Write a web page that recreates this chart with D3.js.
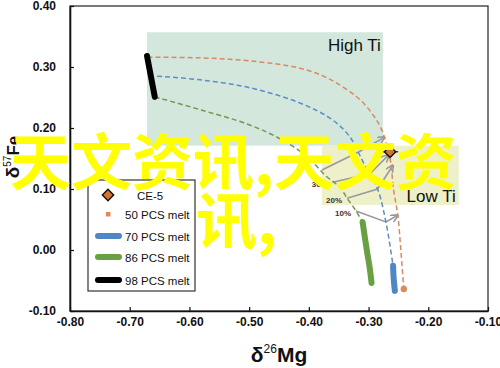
<!DOCTYPE html>
<html><head><meta charset="utf-8">
<script src="https://cdn.jsdelivr.net/npm/d3@7"></script>
<style>
html,body{margin:0;padding:0;background:#fff;}
svg{display:block;}
</style></head>
<body>
<svg id="chart" width="500" height="368"></svg>
<script>
// ---------- DATA ----------
const xTicks = [-0.8,-0.7,-0.6,-0.5,-0.4,-0.3,-0.2,-0.1];
const yTicks = [-0.1,0.0,0.1,0.2,0.3,0.4];
const regionNames = ["High Ti","Low Ti"];
const regionX = [[-0.671,-0.276],[-0.378,-0.149]];
const regionY = [[0.171,0.357],[0.074,0.171]];
const ce5 = [-0.264,0.161];
// dashed model paths (δ26Mg, δ57Fe)
const path50 = [[-0.670,0.316],[-0.582,0.315],[-0.499,0.310],[-0.415,0.298],[-0.365,0.280],[-0.315,0.247],[-0.290,0.218],[-0.278,0.197],[-0.272,0.180],[-0.264,0.150],[-0.258,0.098],[-0.251,0.057],[-0.246,0.000],[-0.241,-0.064]];
const path70 = [[-0.654,0.285],[-0.582,0.279],[-0.499,0.266],[-0.415,0.241],[-0.360,0.213],[-0.331,0.185],[-0.315,0.156],[-0.301,0.128],[-0.285,0.100],[-0.271,0.046],[-0.259,-0.026]];
const path86 = [[-0.658,0.251],[-0.582,0.230],[-0.499,0.205],[-0.444,0.180],[-0.403,0.153],[-0.370,0.120],[-0.348,0.103],[-0.336,0.085],[-0.321,0.064],[-0.310,0.046]];
// melt segments (thick)
const melt50 = [[-0.241,-0.064]];
const melt70 = [[-0.259,-0.026],[-0.258,-0.046],[-0.256,-0.067]];
const melt86 = [[-0.310,0.046],[-0.303,0.000],[-0.298,-0.030],[-0.295,-0.054]];
const melt98 = [[-0.671,0.318],[-0.658,0.251]];
// mixing lines (green -> blue -> orange)
const mixLabels = ["10%","20%","30%","40%"];
const mixLines = [
  [[-0.321,0.064],[-0.271,0.046],[-0.251,0.057]],
  [[-0.336,0.085],[-0.285,0.100],[-0.259,0.139]],
  [[-0.360,0.111],[-0.298,0.125],[-0.266,0.156]],
  [[-0.378,0.131],[-0.316,0.161],[-0.273,0.185]]
];
const legendLabels = ["CE-5","50 PCS melt","70 PCS melt","86 PCS melt","98 PCS melt"];
const colors = {c50:"#dd8a5a", c70:"#4f87c6", c86:"#6aa044", c98:"#000000", ce5:"#d4722e",
  d50:"#d98a63", d70:"#5a8fc9", d86:"#74984f"};
const watermarkLines = ["天文资讯,天文资","讯,"];

// ---------- CHART ----------
const svg = d3.select("#chart");
const x = d3.scaleLinear().domain([-0.8,-0.1]).range([70,488]);
const y = d3.scaleLinear().domain([-0.1,0.4]).range([311,6]);

// regions
const regFill = ["#d3e7dd","#eef0c9"];
regionNames.forEach((n,i)=>{
  svg.append("rect")
    .attr("x",x(regionX[i][0])).attr("y",y(regionY[i][1]))
    .attr("width",x(regionX[i][1])-x(regionX[i][0]))
    .attr("height",y(regionY[i][0])-y(regionY[i][1]))
    .attr("fill",regFill[i]);
});
svg.append("text").attr("x",x(regionX[0][1])-2).attr("y",y(regionY[0][1])+19)
  .attr("text-anchor","end").attr("font-family","Liberation Sans, Arial, sans-serif")
  .attr("font-size",17).attr("fill","#111").text(regionNames[0]);
svg.append("text").attr("x",x(regionX[1][1])-3).attr("y",y(regionY[1][0])-3)
  .attr("text-anchor","end").attr("font-family","Liberation Sans, Arial, sans-serif")
  .attr("font-size",17).attr("fill","#111").text(regionNames[1]);

// frame
svg.append("rect").attr("x",70).attr("y",6).attr("width",418).attr("height",305)
  .attr("fill","none").attr("stroke","#333").attr("stroke-width",1.3);

// axes
const fmt = d=>d.toFixed(2);
const gx = svg.append("g").attr("transform",`translate(0,${y(-0.1)})`)
  .call(d3.axisBottom(x).tickValues(xTicks).tickFormat(fmt).tickSizeInner(-4).tickSizeOuter(0).tickPadding(6));
const gy = svg.append("g").attr("transform",`translate(${x(-0.8)},0)`)
  .call(d3.axisLeft(y).tickValues(yTicks).tickFormat(fmt).tickSizeInner(-4).tickSizeOuter(0).tickPadding(14));
[gx,gy].forEach(g=>{
  g.select(".domain").attr("stroke","#111").attr("stroke-width",1.6);
  g.selectAll(".tick line").attr("stroke","#111").attr("stroke-width",1.2);
  g.selectAll(".tick text").attr("font-family","Liberation Sans, Arial, sans-serif")
    .attr("font-weight","bold").attr("font-size",12).attr("fill","#111");
});

// axis titles
const tx = svg.append("text").attr("x",279).attr("y",362).attr("text-anchor","middle")
  .attr("font-family","Liberation Sans, Arial, sans-serif").attr("font-weight","bold").attr("fill","#111");
tx.append("tspan").attr("font-size",21).text("δ");
tx.append("tspan").attr("font-size",12).attr("font-weight","normal").attr("dy",-9).text("26");
tx.append("tspan").attr("font-size",21).attr("dy",9).text("Mg");
const ty = svg.append("text").attr("transform","translate(19,157) rotate(-90)").attr("text-anchor","middle")
  .attr("font-family","Liberation Sans, Arial, sans-serif").attr("font-weight","bold").attr("fill","#111");
ty.append("tspan").attr("font-size",19).text("δ");
ty.append("tspan").attr("font-size",10).attr("font-weight","normal").attr("dy",-8).text("57");
ty.append("tspan").attr("font-size",17).attr("dy",8).text("Fe");

// arrow marker
const defs = svg.append("defs");
defs.append("marker").attr("id","arr").attr("viewBox","0 0 10 10").attr("refX",9).attr("refY",5)
  .attr("markerWidth",5).attr("markerHeight",5).attr("orient","auto")
  .append("path").attr("d","M0,0 L10,5 L0,10").attr("fill","none").attr("stroke","#999").attr("stroke-width",2);

const line = d3.line().x(d=>x(d[0])).y(d=>y(d[1])).curve(d3.curveCatmullRom.alpha(0.5));
const straight = d3.line().x(d=>x(d[0])).y(d=>y(d[1]));

// mixing lines
mixLines.forEach((pts,i)=>{
  svg.append("path").attr("d",straight(pts)).attr("fill","none").attr("stroke","#9a9a9a")
    .attr("stroke-width",1.6).attr("marker-end","url(#arr)");
});
// labels for first three
[0,1,2].forEach(i=>{
  const p = mixLines[i][0];
  svg.append("text").attr("x",x(p[0])-5).attr("y",y(p[1])+5).attr("text-anchor","end")
    .attr("font-family","Liberation Sans, Arial, sans-serif").attr("font-weight","bold")
    .attr("font-size",8).attr("fill","#333").text(mixLabels[i]);
});

// dashed paths
[[path50,colors.d50],[path70,colors.d70],[path86,colors.d86]].forEach(([p,c])=>{
  svg.append("path").attr("d",line(p)).attr("fill","none").attr("stroke",c)
    .attr("stroke-width",1.5).attr("stroke-dasharray","5,3");
});

// melts
[[melt70,colors.c70],[melt86,colors.c86],[melt98,colors.c98]].forEach(([p,c])=>{
  svg.append("path").attr("d",line(p)).attr("fill","none").attr("stroke",c)
    .attr("stroke-width",6).attr("stroke-linecap","round");
});
svg.selectAll(".m50").data(melt50).enter().append("circle")
  .attr("cx",d=>x(d[0])).attr("cy",d=>y(d[1])).attr("r",3.2).attr("fill",colors.c50);

// CE-5
const diamond = d3.symbol().type(d3.symbolDiamond2 || d3.symbolDiamond).size(110);
svg.append("line").attr("x1",x(ce5[0])-8).attr("x2",x(ce5[0])+8).attr("y1",y(ce5[1])).attr("y2",y(ce5[1]))
  .attr("stroke","#111").attr("stroke-width",1.2);
svg.append("path").attr("d",d3.symbol().type(d3.symbolSquare).size(64)())
  .attr("transform",`translate(${x(ce5[0])},${y(ce5[1])}) rotate(45)`)
  .attr("fill",colors.ce5).attr("stroke","#111").attr("stroke-width",1.4);

// legend
const lg = svg.append("g");
lg.append("rect").attr("x",88).attr("y",180).attr("width",107).attr("height",111)
  .attr("fill","#fff").attr("stroke","#333").attr("stroke-width",1.2);
const ly = [195,214,236,257,280];
lg.append("path").attr("d",d3.symbol().type(d3.symbolSquare).size(64)())
  .attr("transform",`translate(108,${ly[0]}) rotate(45)`)
  .attr("fill",colors.ce5).attr("stroke","#111").attr("stroke-width",1.4);
lg.append("rect").attr("x",106).attr("y",ly[1]-2).attr("width",4.5).attr("height",4.5).attr("fill",colors.c50);
[colors.c70,colors.c86,colors.c98].forEach((c,i)=>{
  lg.append("line").attr("x1",98).attr("x2",119).attr("y1",ly[i+2]).attr("y2",ly[i+2])
    .attr("stroke",c).attr("stroke-width",6).attr("stroke-linecap","round");
});
legendLabels.forEach((t,i)=>{
  lg.append("text").attr("x",i===0?137:125).attr("y",ly[i]+4.5)
    .attr("font-family","Liberation Sans, Arial, sans-serif").attr("font-size",11.5)
    .attr("fill","#111").text(t);
});

// watermark overlay
const wmY = [185,244], wmX = [10,196];
watermarkLines.forEach((t,i)=>{
  svg.append("text").attr("x",wmX[i]).attr("y",wmY[i])
    .attr("font-family","Noto Sans CJK SC, sans-serif").attr("font-weight","bold")
    .attr("font-size",61).attr("fill","#ffff00").text(t);
});
</script>
</body></html>
